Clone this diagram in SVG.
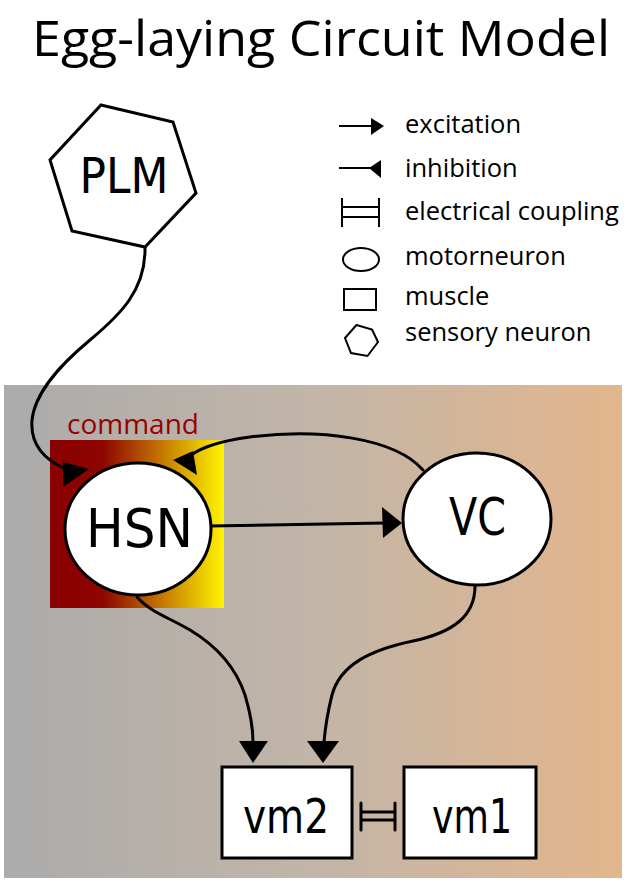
<svg xmlns="http://www.w3.org/2000/svg" width="629" height="886" viewBox="0 0 629 886">
<defs>
<linearGradient id="bg" x1="0" y1="0" x2="1" y2="0">
<stop offset="0" stop-color="#ababab"/>
<stop offset="0.5" stop-color="#c2b5a8"/>
<stop offset="1" stop-color="#e3b68c"/>
</linearGradient>
<linearGradient id="cmd" x1="0" y1="0" x2="1" y2="0">
<stop offset="0" stop-color="#8a0000"/>
<stop offset="0.3" stop-color="#8d0400"/>
<stop offset="0.65" stop-color="#c67a00"/>
<stop offset="1" stop-color="#fff500"/>
</linearGradient>
</defs>
<style>
.title{font-family:"Open Sans","Liberation Sans",sans-serif;font-size:50px;fill:#000}
.leg{font-family:"Open Sans","Liberation Sans",sans-serif;font-size:25.5px;fill:#000}
.cmdt{font-family:"Open Sans","Liberation Sans",sans-serif;font-size:28px;fill:#990000}
.lbl{font-family:"DejaVu Sans","Liberation Sans",sans-serif;fill:#000;text-anchor:middle}
.node{fill:#fff;stroke:#000;stroke-width:3}
.conn{fill:none;stroke:#000;stroke-width:3;stroke-linecap:round}
.head{fill:#000;stroke:none}
.lg{fill:none;stroke:#000;stroke-width:2}
.lgf{fill:#fff;stroke:#000;stroke-width:2}
</style>

<text class="title" x="32" y="56" textLength="578" lengthAdjust="spacingAndGlyphs">Egg-laying Circuit Model</text>

<g id="legend">
<line class="lg" x1="339" y1="126" x2="373" y2="126"/>
<polygon class="head" points="371,118 384,126 371,135"/>
<text class="leg" x="405" y="133">excitation</text>
<line class="lg" x1="339" y1="168" x2="375" y2="168"/>
<polygon class="head" points="369,168 381,160 381,178"/>
<text class="leg" x="405" y="177">inhibition</text>
<line class="lg" x1="342" y1="198" x2="342" y2="227"/>
<line class="lg" x1="379" y1="198" x2="379" y2="227"/>
<line class="lg" x1="342" y1="207" x2="379" y2="207"/>
<line class="lg" x1="342" y1="217" x2="379" y2="217"/>
<text class="leg" x="405" y="220">electrical coupling</text>
<ellipse class="lgf" cx="361" cy="259.5" rx="18" ry="11.5"/>
<text class="leg" x="405" y="265">motorneuron</text>
<rect class="lgf" x="344" y="289" width="32" height="21"/>
<text class="leg" x="405" y="305">muscle</text>
<polygon class="lgf" points="356.5,325 372,329.5 378,342 367.5,356 351,353 345,338"/>
<text class="leg" x="405" y="341">sensory neuron</text>
</g>

<rect id="background" x="4" y="385" width="618" height="493" fill="url(#bg)"/>

<g id="command">
<rect x="50" y="440" width="174" height="168" fill="url(#cmd)"/>
<text class="cmdt" x="67" y="434">command</text>
</g>

<g id="connectors">
<path class="conn" d="M145,247 C146,290 120,315 90,340 C60,365 35,392 32,420 C30,445 45,460 66,469"/>
<polygon class="head" points="63,462 89,469 63,487"/>
<path class="conn" d="M209,526 L384,523"/>
<polygon class="head" points="382,507 402,523 383,538"/>
<path class="conn" d="M423,470 C395,438 320,428 250,437 C220,441 200,448 190,456"/>
<polygon class="head" points="173,460 193,451 197,475"/>
<path class="conn" d="M137,597 C150,612 170,618 190,630 C215,645 235,665 245,695 C251,715 253,730 253,742"/>
<polygon class="head" points="239,741 268,741 253,763"/>
<path class="conn" d="M475,586 C475,615 455,632 413,641 C370,650 340,665 332,695 C327,715 325,730 324,742"/>
<polygon class="head" points="307,741 339,741 323,763"/>
<path class="conn" d="M361,803 V830 M395,803 V830 M361,812 H395 M361,820 H395"/>
</g>

<g id="PLM">
<polygon class="node" points="101,105 173,122 196,193 145,247 72,231 50,160"/>
<text class="lbl" x="124" y="193" font-size="49" textLength="89" lengthAdjust="spacingAndGlyphs">PLM</text>
</g>

<g id="HSN">
<ellipse class="node" cx="138" cy="529" rx="73" ry="66"/>
<text class="lbl" x="139.5" y="547" font-size="53" textLength="107" lengthAdjust="spacingAndGlyphs">HSN</text>
</g>

<g id="VC">
<ellipse class="node" cx="477" cy="519" rx="74" ry="66"/>
<text class="lbl" x="477.5" y="535" font-size="51" textLength="57" lengthAdjust="spacingAndGlyphs">VC</text>
</g>

<g id="vm2">
<rect class="node" x="222" y="767" width="130" height="91"/>
<text class="lbl" x="286" y="833" font-size="48" textLength="86" lengthAdjust="spacingAndGlyphs">vm2</text>
</g>

<g id="vm1">
<rect class="node" x="404" y="767" width="132" height="91"/>
<text class="lbl" x="472" y="833" font-size="48" textLength="80" lengthAdjust="spacingAndGlyphs">vm1</text>
</g>
</svg>
